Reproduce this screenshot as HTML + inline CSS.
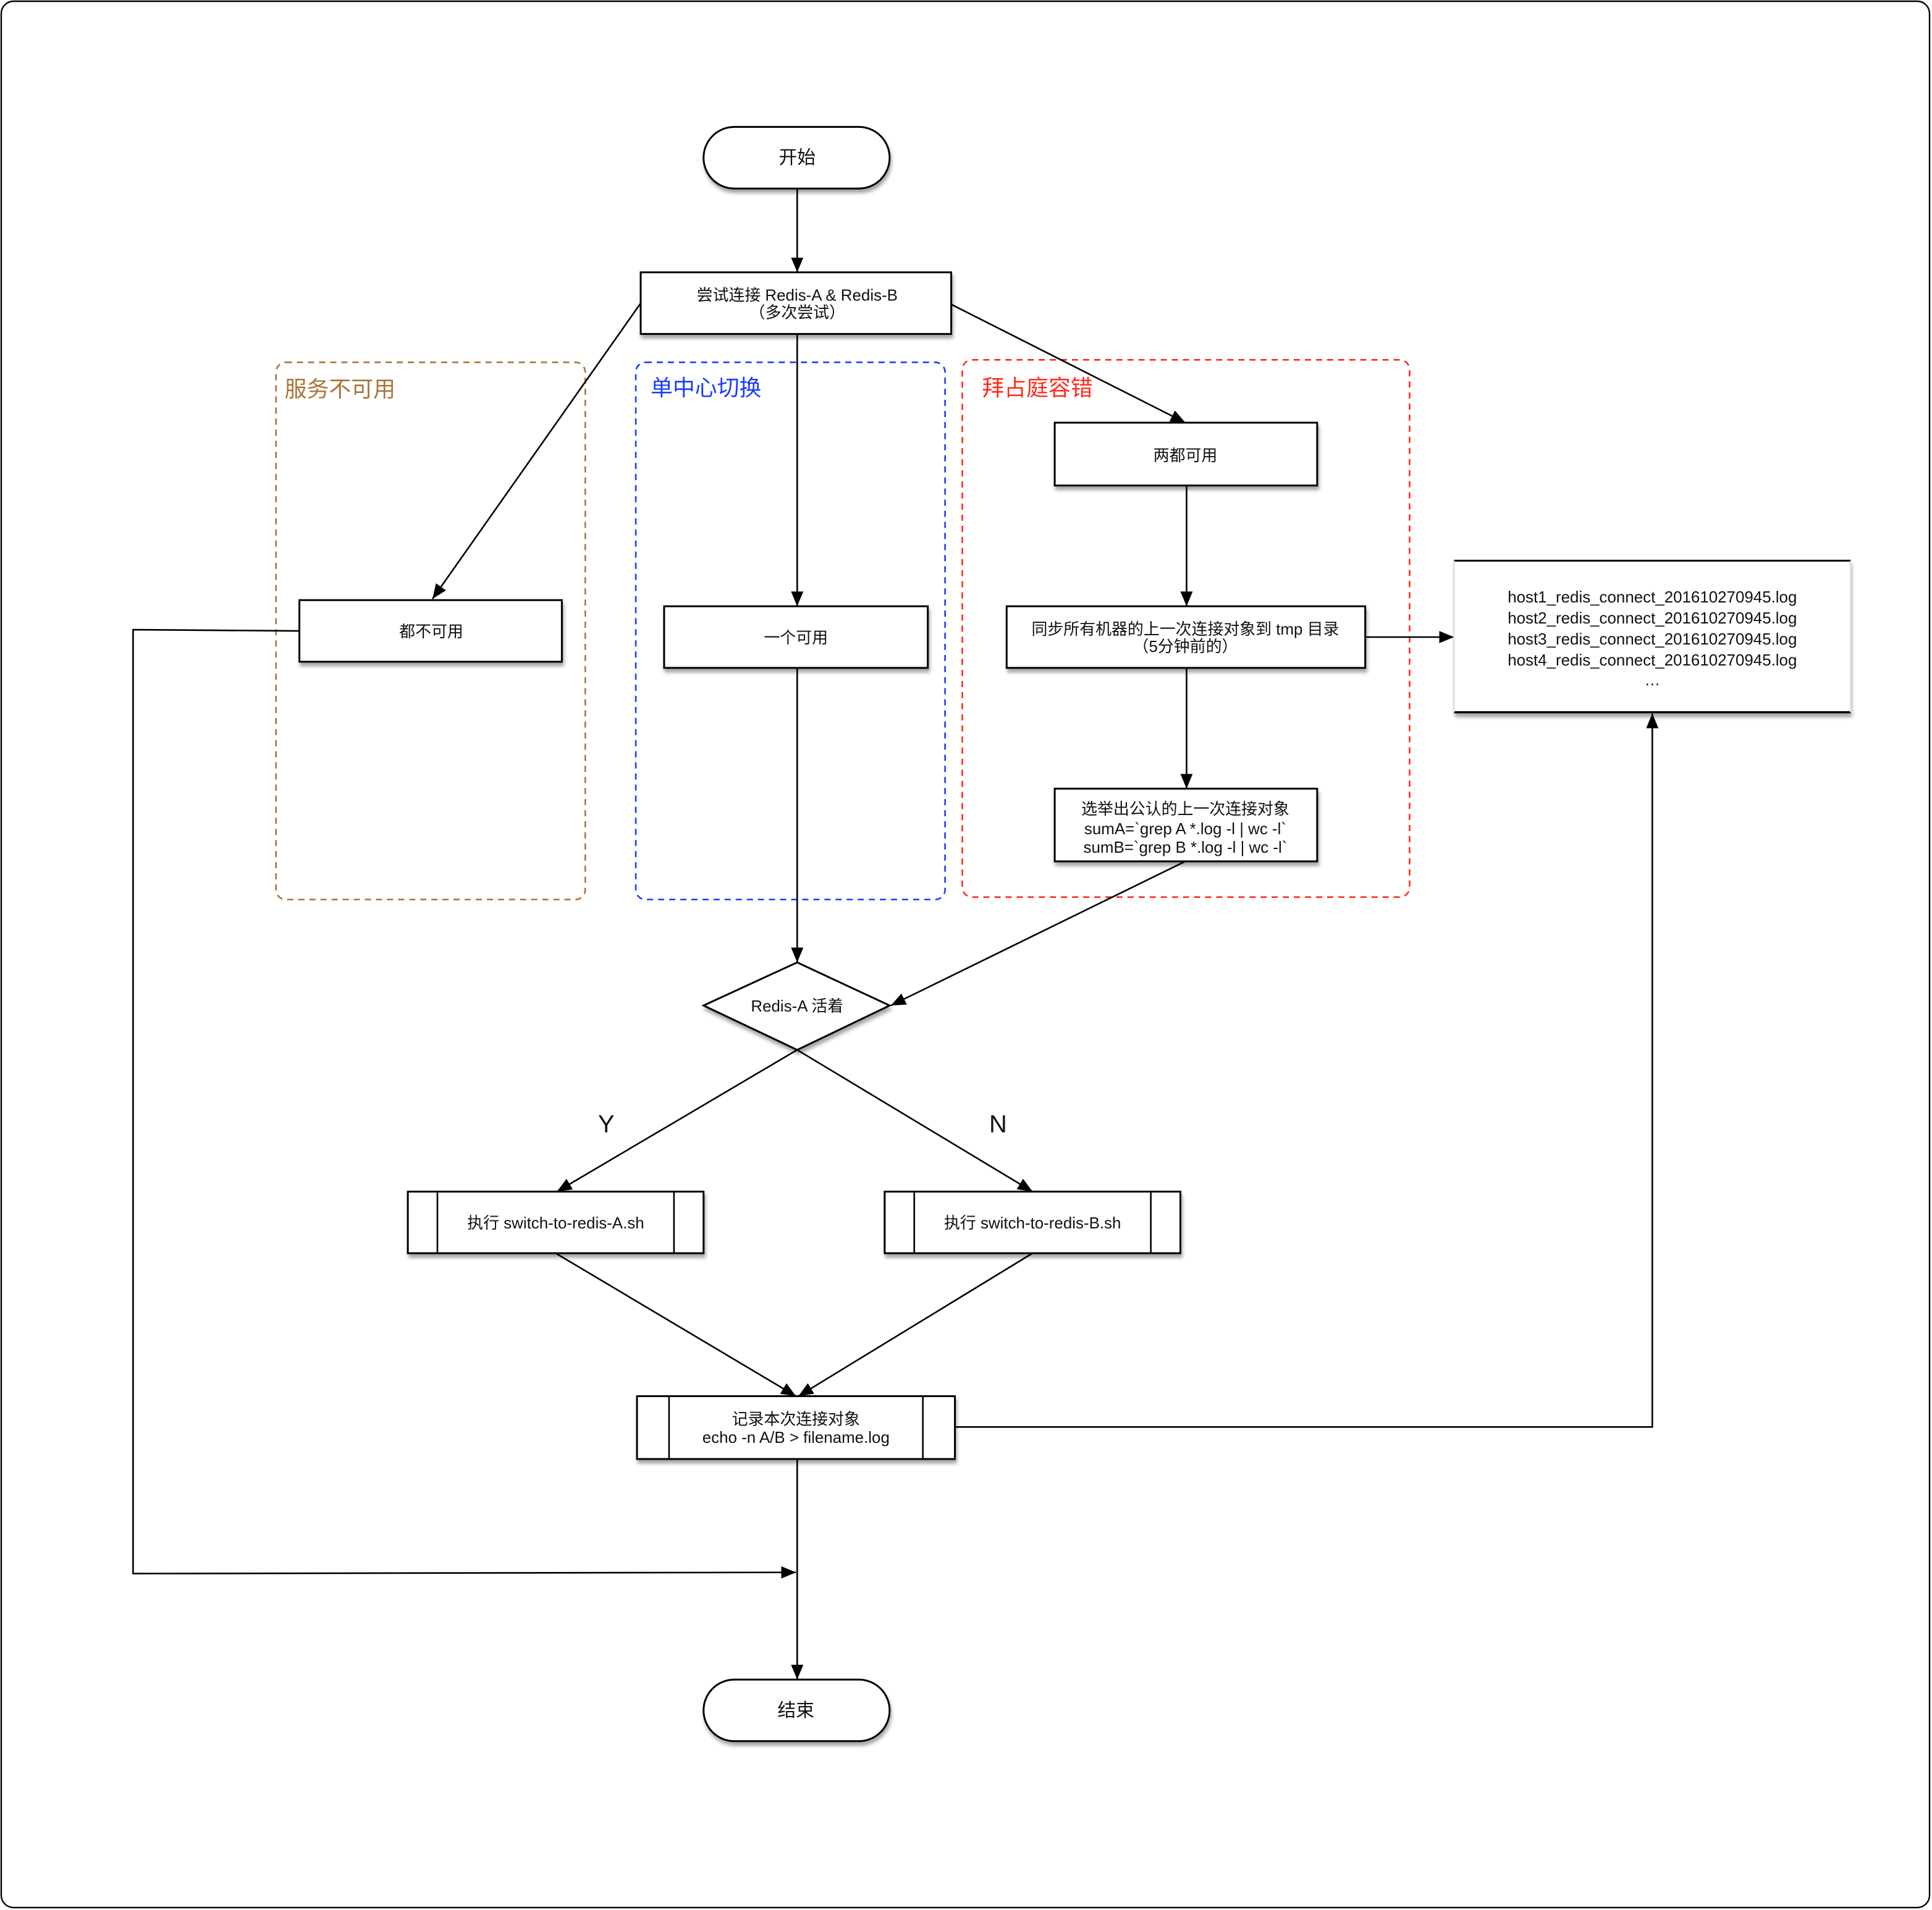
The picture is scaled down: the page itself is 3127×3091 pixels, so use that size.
<!DOCTYPE html>
<html><head><meta charset="utf-8"><style>
html,body{margin:0;padding:0;background:#fff;}
svg{display:block;}
text{font-family:"Liberation Sans","Noto Sans CJK SC",sans-serif;fill:#111;}
</style></head><body>
<svg width="3127" height="3091" viewBox="0 0 1568 1550" preserveAspectRatio="none" xmlns="http://www.w3.org/2000/svg">
<defs>
<marker id="a" viewBox="0 0 12 10" refX="12" refY="5" markerWidth="12" markerHeight="10" markerUnits="userSpaceOnUse" orient="auto">
<path d="M0,0 L12,5 L0,10 z" fill="#000"/></marker>
<filter id="sh" x="-10%" y="-10%" width="130%" height="140%"><feDropShadow dx="1" dy="3" stdDeviation="1.5" flood-color="#000" flood-opacity="0.35"/></filter>
</defs>
<rect x="1" y="1" width="1565" height="1547" rx="10" fill="#fff" stroke="#000" stroke-width="1.2"/>

<!-- groups -->
<rect x="224" y="294" width="251" height="436" rx="8" fill="none" stroke="#a9743a" stroke-width="1.3" stroke-dasharray="5,4"/>
<text x="231" y="322" font-size="18" style="fill:#a9743a">服务不可用</text>
<rect x="516" y="294" width="251" height="436" rx="8" fill="none" stroke="#1a3cff" stroke-width="1.3" stroke-dasharray="5,4"/>
<text x="528" y="321" font-size="18" style="fill:#1a3cff">单中心切换</text>
<rect x="781" y="292" width="363" height="436" rx="8" fill="none" stroke="#ff2a1a" stroke-width="1.3" stroke-dasharray="5,4"/>
<text x="797" y="321" font-size="18" style="fill:#ff2a1a">拜占庭容错</text>

<g stroke="#000" stroke-width="1.3" fill="none">
<line x1="647" y1="153" x2="647" y2="221" marker-end="url(#a)"/>
<line x1="520" y1="246" x2="351" y2="486" marker-end="url(#a)"/>
<line x1="647" y1="271" x2="647" y2="492" marker-end="url(#a)"/>
<line x1="772" y1="247" x2="962" y2="343" marker-end="url(#a)"/>
<line x1="963" y1="394" x2="963" y2="492" marker-end="url(#a)"/>
<line x1="963" y1="542" x2="963" y2="640" marker-end="url(#a)"/>
<line x1="1108" y1="517" x2="1180" y2="517" marker-end="url(#a)"/>
<line x1="962" y1="699" x2="723" y2="816" marker-end="url(#a)"/>
<line x1="647" y1="542" x2="647" y2="781" marker-end="url(#a)"/>
<line x1="647" y1="852" x2="452" y2="967" marker-end="url(#a)"/>
<line x1="647" y1="852" x2="838" y2="967" marker-end="url(#a)"/>
<line x1="451" y1="1017" x2="646" y2="1133" marker-end="url(#a)"/>
<line x1="838" y1="1017" x2="648" y2="1133" marker-end="url(#a)"/>
<line x1="647" y1="1184" x2="647" y2="1363" marker-end="url(#a)"/>
<polyline points="243,512 108,511 108,1277 646,1276" marker-end="url(#a)"/>
<polyline points="775,1158 1341,1158 1341,579" marker-end="url(#a)"/>
</g>

<g fill="#fff" stroke="#000" stroke-width="1.5" filter="url(#sh)">
<rect x="571" y="103" width="151" height="50" rx="25"/>
<rect x="520" y="221" width="252" height="50"/>
<rect x="243" y="487" width="213" height="50"/>
<rect x="539" y="492" width="214" height="50"/>
<rect x="856" y="343" width="213" height="51"/>
<rect x="817" y="492" width="291" height="50"/>
<rect x="856" y="640" width="213" height="59"/>
<polygon points="571,816 647,781 722,816 647,852"/>
<rect x="331" y="967" width="240" height="50"/>
<rect x="718" y="967" width="240" height="50"/>
<rect x="517" y="1133" width="258" height="51"/>
<rect x="571" y="1363" width="151" height="50" rx="25"/>
<rect x="1180" y="455" width="322" height="124" stroke="none"/>
</g>
<g stroke="#000" stroke-width="1.3">
<line x1="355" y1="967" x2="355" y2="1017"/><line x1="547" y1="967" x2="547" y2="1017"/>
<line x1="742" y1="967" x2="742" y2="1017"/><line x1="934" y1="967" x2="934" y2="1017"/>
<line x1="543" y1="1133" x2="543" y2="1184"/><line x1="749" y1="1133" x2="749" y2="1184"/>
<line x1="1180" y1="455" x2="1502" y2="455" stroke-width="1.5"/>
<line x1="1180" y1="578" x2="1502" y2="578" stroke-width="1.8"/>
<line x1="1180" y1="455" x2="1180" y2="578" stroke="#ddd"/>
<line x1="1502" y1="455" x2="1502" y2="578" stroke="#ddd"/>
</g>

<g font-size="13" text-anchor="middle">
<text x="647" y="133" font-size="15">开始</text>
<text x="647" y="244">尝试连接 Redis-A &amp; Redis-B</text>
<text x="647" y="258">（多次尝试）</text>
<text x="350" y="517">都不可用</text>
<text x="646" y="522">一个可用</text>
<text x="962" y="374">两都可用</text>
<text x="962" y="515">同步所有机器的上一次连接对象到 tmp 目录</text>
<text x="962" y="529">（5分钟前的）</text>
<text x="962" y="661">选举出公认的上一次连接对象</text>
<text x="962" y="677">sumA=`grep A *.log -l | wc -l`</text>
<text x="962" y="692">sumB=`grep B *.log -l | wc -l`</text>
<text x="647" y="821">Redis-A 活着</text>
<text x="451" y="997">执行 switch-to-redis-A.sh</text>
<text x="838" y="997">执行 switch-to-redis-B.sh</text>
<text x="646" y="1156">记录本次连接对象</text>
<text x="646" y="1171">echo -n A/B &gt; filename.log</text>
<text x="646" y="1393" font-size="15">结束</text>
<text x="1341" y="489">host1_redis_connect_201610270945.log</text>
<text x="1341" y="506">host2_redis_connect_201610270945.log</text>
<text x="1341" y="523">host3_redis_connect_201610270945.log</text>
<text x="1341" y="540">host4_redis_connect_201610270945.log</text>
<text x="1341" y="556">…</text>
<text x="492" y="919" font-size="20">Y</text>
<text x="810" y="919" font-size="20">N</text>
</g>
</svg>
</body></html>
